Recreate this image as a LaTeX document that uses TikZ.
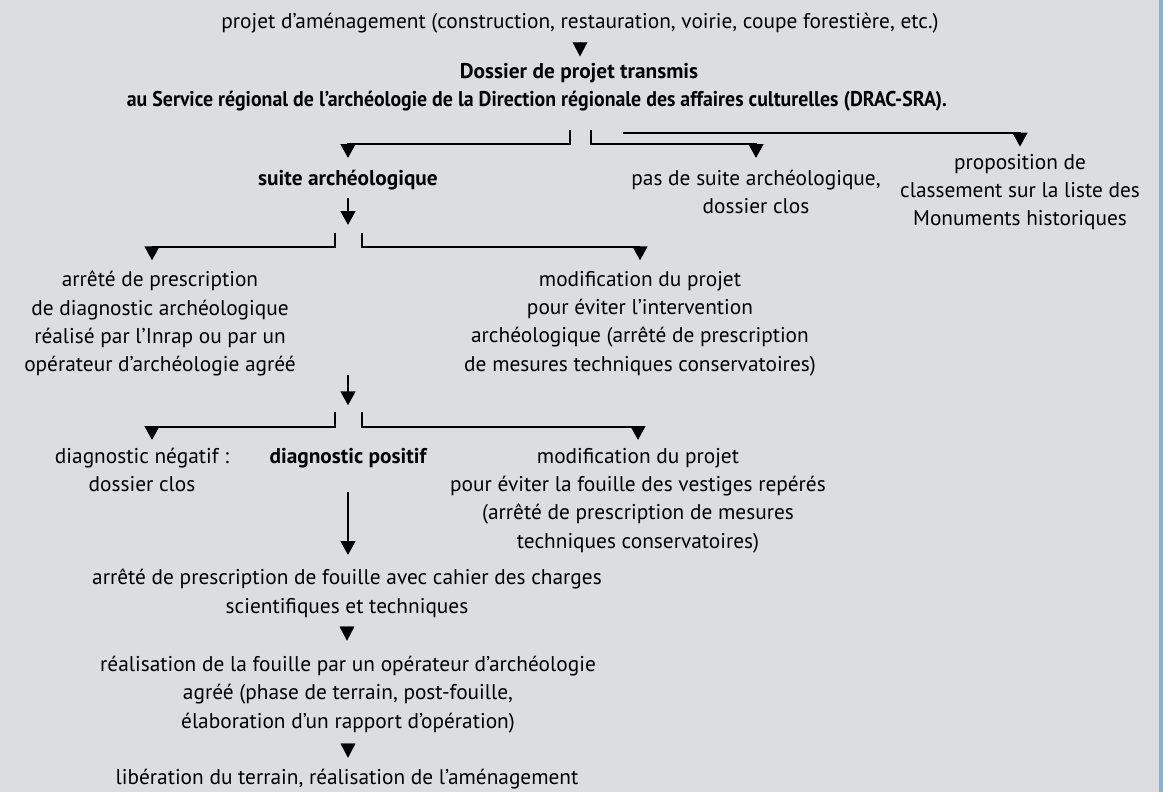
\documentclass[tikz,border=0pt]{standalone}
\usepackage{fontspec}
\setmainfont{PT Sans}
\usetikzlibrary{arrows.meta}

\definecolor{panel}{HTML}{DCDDDF}
\definecolor{edge}{HTML}{7EB3DD}

\begin{document}
\begin{tikzpicture}[
  x=0.75pt, y=-0.75pt,
  txt/.style={inner sep=0pt, align=center, anchor=north, font=\fontsize{16}{21.2}\selectfont},
  hd/.style={txt, font=\fontsize{16}{21.2}\selectfont\bfseries},
  flow/.style={-{Triangle[width=11pt,length=10.5pt]}, line width=1.9pt},
  tip/.style={-{Triangle[width=11pt,length=10.5pt]}, line width=0.1pt}
]
\useasboundingbox (0,0) rectangle (1163,792);
\fill[panel] (0,0) rectangle (1159,792);
\fill[edge] (1159,0) rectangle (1163,792);

% top: project and file
\node[txt] (projet) at (580,13) {projet d'aménagement (construction, restauration, voirie, coupe forestière, etc.)};
\node[hd] (dossier) at (579,63) {Dossier de projet transmis};
\node[hd, font=\fontsize{16}{21.2}\selectfont\bfseries\addfontfeature{FakeStretch=0.93}] (sra) at (537,91) {au Service régional de l'archéologie de la Direction régionale des affaires culturelles (DRAC-SRA).};

% first split
\node[hd] (suite) at (348,170) {suite archéologique};
\node[txt] (pas) at (756,170) {pas de suite archéologique,\\dossier clos};
\node[txt] (classe) at (1020,154) {proposition de\\classement sur la liste des\\Monuments historiques};

% second split
\node[txt] (diag) at (160,271) {arrêté de prescription\\de diagnostic archéologique\\réalisé par l'Inrap ou par un\\opérateur d'archéologie agréé};
\node[txt] (evite) at (640,271) {modification du projet\\pour éviter l'intervention\\archéologique (arrêté de prescription\\de mesures techniques conservatoires)};

% third split
\node[txt] (negatif) at (142,448) {diagnostic négatif :\\dossier clos};
\node[hd] (positif) at (348,448) {diagnostic positif};
\node[txt] (evite2) at (638,448) {modification du projet\\pour éviter la fouille des vestiges repérés\\(arrêté de prescription de mesures\\techniques conservatoires)};

% excavation
\node[txt] (fouille) at (347,569) {arrêté de prescription de fouille avec cahier des charges\\scientifiques et techniques};
\node[txt] (realise) at (348,656) {réalisation de la fouille par un opérateur d'archéologie\\agréé (phase de terrain, post-fouille,\\élaboration d'un rapport d'opération)};
\node[txt] (libere) at (347,769) {libération du terrain, réalisation de l'aménagement};

% split points
\coordinate (s1l) at (570,130);
\coordinate (s1r) at (591,130);
\coordinate (s1x) at (623,133);
\coordinate (s2) at (348,233);
\coordinate (s2l) at (335,233);
\coordinate (s2r) at (362,233);
\coordinate (s3) at (348,412);
\coordinate (s3l) at (335,412);
\coordinate (s3r) at (362,412);

\draw[tip, shorten <=7.5pt, shorten >=5pt] (projet.south) -- (projet.south |- dossier.north);

\draw[flow, shorten >=9pt] (s1l) -- ++(0,14) -| (suite.north);
\draw[flow, shorten >=9pt] (s1r) -- ++(0,14) -| (pas.north);
\draw[flow, shorten >=5.5pt] (s1x) -| (classe.north);

\draw[flow, shorten <=6pt, shorten >=6pt] (suite) -- (s2);
\draw[flow, shorten >=8pt] (s2l) -- ++(0,14) -| (diag.north -| 152,0);
\draw[flow, shorten >=8pt] (s2r) -- ++(0,14) -| (evite.north);

\draw[flow, shorten <=-1pt, shorten >=5pt] (diag.south -| s2) -- (s3);
\draw[flow, shorten >=6pt] (s3l) -- ++(0,15) -| (negatif.north -| 152,0);
\draw[flow, shorten >=6pt] (s3r) -- ++(0,15) -| (evite2.north);

\draw[flow, shorten <=18pt, shorten >=10.5pt] (positif.south) -- (positif.south |- fouille.north);
\draw[tip, shorten <=7.5pt, shorten >=11.5pt] (fouille.south) -- (fouille.south |- realise.north);
\draw[tip, shorten <=9.5pt, shorten >=8.5pt] (realise.south) -- (realise.south |- libere.north);
\end{tikzpicture}
\end{document}
